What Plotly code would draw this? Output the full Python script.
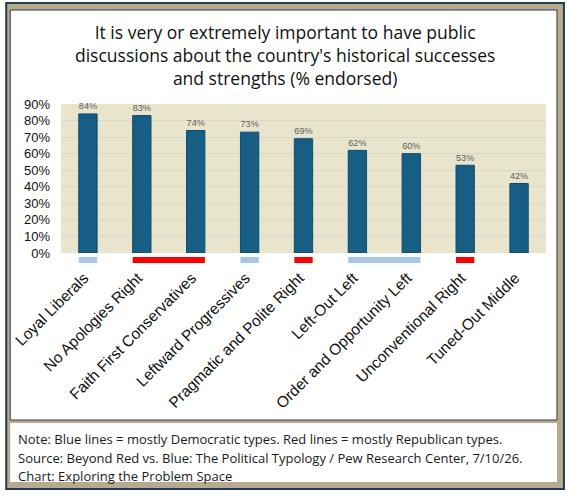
import plotly.graph_objects as go

# Data
types = ["Loyal Liberals", "No Apologies Right", "Faith First Conservatives",
         "Leftward Progressives", "Pragmatic and Polite Right", "Left-Out Left",
         "Order and Opportunity Left", "Unconventional Right", "Tuned-Out Middle"]
endorsed = [84, 83, 74, 73, 69, 62, 60, 53, 42]
party = ["D", "R", "R", "D", "R", "D", "D", "R", None]

title_text = ("It is very or extremely important to have public<br>"
              "discussions about the country's historical successes<br>"
              "and strengths (% endorsed)")
note_lines = [
    "Note: Blue lines = mostly Democratic types. Red lines = mostly Republican types.",
    "Source: Beyond Red vs. Blue: The Political Typology / Pew Research Center, 7/10/26.",
    "Chart: Exploring the Problem Space",
]

W, H = 571, 499
L, R, T, B = 59, 546, 104, 253          # plot area in pixels


def px_x(p):
    return (p - L) / (R - L)


def px_y(p):
    return (B - p) / (B - T)


party_col = {"D": "#A5C8EA", "R": "#FF0000"}
FONT = "Open Sans"

fig = go.Figure()
fig.add_trace(go.Bar(
    x=types, y=endorsed, width=0.34,
    marker=dict(color="#165E84", line=dict(color="#104C6C", width=1)),
    text=[f"{v}%" for v in endorsed], texttemplate="%{text}",
    textposition="outside", cliponaxis=False,
    textfont=dict(size=10.5, color="#606060", family="Liberation Sans"),
))

shapes = [
    # outer frame
    dict(type="rect", xref="paper", yref="paper", layer="below",
         x0=px_x(4), x1=px_x(564), y0=px_y(3), y1=px_y(489),
         fillcolor="#B8A993", line=dict(color="#1E3B4F", width=2)),
    # chart box
    dict(type="rect", xref="paper", yref="paper", layer="below",
         x0=px_x(8), x1=px_x(557), y0=px_y(10), y1=px_y(420),
         fillcolor="white", line=dict(color="#3A3A3A", width=1)),
    # notes box
    dict(type="rect", xref="paper", yref="paper", layer="below",
         x0=px_x(8), x1=px_x(557), y0=px_y(423), y1=px_y(482),
         fillcolor="white", line=dict(width=0)),
    # plot background
    dict(type="rect", xref="paper", yref="paper", layer="below",
         x0=0, x1=1, y0=0, y1=1, fillcolor="#E9E5CC", line=dict(width=0)),
]

# party lines under the bars, grouping neighbours of the same party
i = 0
while i < len(types):
    p = party[i]
    j = i
    while j + 1 < len(types) and party[j + 1] == p:
        j += 1
    if p:
        shapes.append(dict(type="rect", xref="x", yref="paper",
                           x0=i - 0.17, x1=j + 0.17, y0=px_y(257), y1=px_y(263),
                           fillcolor=party_col[p], line=dict(width=0)))
    i = j + 1

annotations = [dict(
    text=title_text, xref="paper", yref="paper", x=px_x(284), y=px_y(55),
    xanchor="center", yanchor="middle", showarrow=False,
    font=dict(family=FONT, size=17.5, color="#111111"),
)]
for k, line in enumerate(note_lines):
    annotations.append(dict(
        text=line, xref="paper", yref="paper", x=px_x(14), y=px_y(439 + 18.5 * k),
        xanchor="left", yanchor="middle", showarrow=False,
        font=dict(family=FONT, size=13, color="#1A1A1A"),
    ))

fig.update_layout(
    width=W, height=H,
    margin=dict(l=L, r=W - R, t=T, b=H - B),
    paper_bgcolor="white", plot_bgcolor="rgba(0,0,0,0)",
    showlegend=False,
    shapes=shapes,
    annotations=annotations,
    xaxis=dict(range=[-0.5, 8.5], tickangle=-45, showgrid=False, zeroline=False,
               ticklabelstandoff=12, ticklabelshift=-4,
               tickfont=dict(family="Liberation Sans", size=15.5, color="#111111")),
    yaxis=dict(range=[0, 90], dtick=10, ticksuffix="%", gridcolor="#D8D6D0",
               zeroline=False, ticklabelstandoff=10,
               tickfont=dict(family="Liberation Sans", size=13, color="#111111")),
)

fig.write_html("out.html", config={"displayModeBar": False},
               post_script="document.body.style.margin='0';")
